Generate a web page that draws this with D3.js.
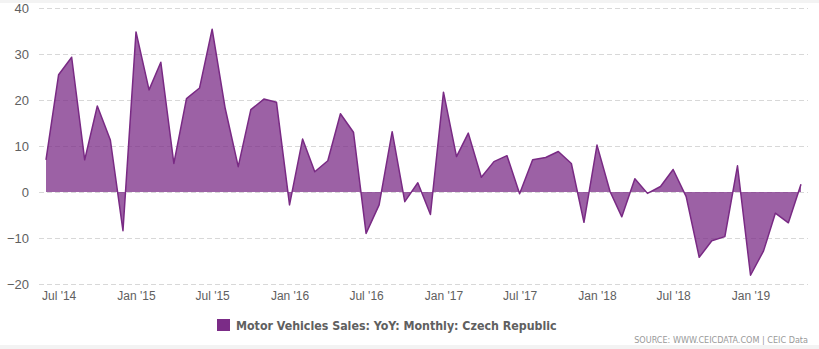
<!DOCTYPE html>
<html>
<head>
<meta charset="utf-8">
<script src="https://cdn.jsdelivr.net/npm/d3@7"></script>
<style>
  body { margin: 0; background: #fff; }
  svg { display: block; font-family: "DejaVu Sans Condensed", "DejaVu Sans", sans-serif; }
  .grid line { stroke: #d8d8d8; stroke-dasharray: 5,3; }
  .y-label { fill: #606060; font-size: 13px; }
  .x-label { fill: #606060; font-size: 12px; }
</style>
</head>
<body>
<svg class="chart"></svg>
<script>
// Chart size
var width = 819;
var height = 349;
var plot = {left: 46, right: 801, top: 8, bottom: 284};

// Data: monthly YoY %, Jun 2014 .. May 2019
var startMonth = new Date(2014, 5, 1);
var values = [
  7.0, 25.5, 29.3, 7.0, 18.7, 11.3, -8.4,
  34.8, 22.2, 28.2, 6.2, 20.3, 22.6, 35.4, 18.2, 5.5, 17.9, 20.2, 19.5,
  -2.8, 11.5, 4.4, 6.8, 17.0, 13.0, -9.0, -2.8, 13.1, -2.1, 2.0, -4.9,
  21.7, 7.7, 12.8, 3.2, 6.6, 7.9, -0.4, 7.0, 7.5, 8.8, 6.2, -6.6,
  10.2, 0.1, -5.4, 2.9, -0.3, 1.2, 4.9, -1.0, -14.2, -10.6, -9.7, 5.7,
  -18.1, -12.8, -4.6, -6.7, 1.7
];
var yTicks = [-20, -10, 0, 10, 20, 30, 40];
var xTicks = ['2014-07', '2015-01', '2015-07', '2016-01', '2016-07', '2017-01',
  '2017-07', '2018-01', '2018-07', '2019-01'];
var seriesName = 'Motor Vehicles Sales: YoY: Monthly: Czech Republic';
var sourceText = 'SOURCE: WWW.CEICDATA.COM | CEIC Data';

var data = values.map(function (v, i) {
  return {date: d3.timeMonth.offset(startMonth, i), value: v};
});

var svg = d3.select('.chart')
  .attr('width', width)
  .attr('height', height);

// light strips top and bottom
svg.append('rect').attr('x', 0).attr('y', 0).attr('width', width).attr('height', 3).attr('fill', '#f3f3f3');
svg.append('rect').attr('x', 0).attr('y', 345).attr('width', width).attr('height', 4).attr('fill', '#f3f3f3');

var x = d3.scaleTime()
  .domain([data[0].date, data[data.length - 1].date])
  .range([plot.left, plot.right]);

var y = d3.scaleLinear()
  .domain([-20, 40])
  .range([plot.bottom, plot.top]);

// Gridlines
svg.append('g')
  .attr('class', 'grid')
  .selectAll('line')
  .data(yTicks)
  .enter()
  .append('line')
  .attr('x1', 39)
  .attr('x2', 808)
  .attr('y1', function (d) { return Math.round(y(d)) + 0.5; })
  .attr('y2', function (d) { return Math.round(y(d)) + 0.5; });

// Y axis labels
var yAxis = d3.axisLeft(y).tickValues(yTicks).tickSize(0).tickPadding(0)
  .tickFormat(function (d) { return d < 0 ? '\u2212' + Math.abs(d) : d; });
var yG = svg.append('g')
  .attr('transform', 'translate(29,0)')
  .call(yAxis);
yG.select('.domain').remove();
yG.selectAll('text').attr('class', 'y-label').attr('font-family', null).attr('font-size', null).attr('dy', '0.35em');

// Area and line
var area = d3.area()
  .x(function (d) { return x(d.date); })
  .y0(y(0))
  .y1(function (d) { return y(d.value); });

var line = d3.line()
  .x(function (d) { return x(d.date); })
  .y(function (d) { return y(d.value); });

svg.append('path')
  .datum(data)
  .attr('d', area)
  .attr('fill', '#7b2c87')
  .attr('fill-opacity', 0.75);

svg.append('path')
  .datum(data)
  .attr('d', line)
  .attr('fill', 'none')
  .attr('stroke', '#792a84')
  .attr('stroke-width', 1.5)
  .attr('stroke-linejoin', 'round');

// X axis labels
var parse = d3.timeParse('%Y-%m');
var fmt = d3.timeFormat("%b '%y");
var xAxis = d3.axisBottom(x).tickValues(xTicks.map(parse)).tickSize(0).tickPadding(0).tickFormat(fmt);
var xG = svg.append('g')
  .attr('transform', 'translate(0,291)')
  .call(xAxis);
xG.select('.domain').remove();
xG.selectAll('text').attr('class', 'x-label').attr('font-family', null).attr('font-size', null).attr('dy', '0.75em');

// Legend
var legend = svg.append('g').attr('transform', 'translate(217,319)');
legend.append('rect')
  .attr('width', 13).attr('height', 12)
  .attr('fill', '#7b2c87');
legend.append('text')
  .attr('x', 19).attr('y', 11)
  .attr('fill', '#606060')
  .attr('font-size', '12.3px')
  .attr('font-weight', 'bold')
  .text(seriesName);

// Source
svg.append('text')
  .attr('x', 808).attr('y', 343)
  .attr('text-anchor', 'end')
  .attr('fill', '#999')
  .attr('font-size', '9px')
  .text(sourceText);
</script>
</body>
</html>
